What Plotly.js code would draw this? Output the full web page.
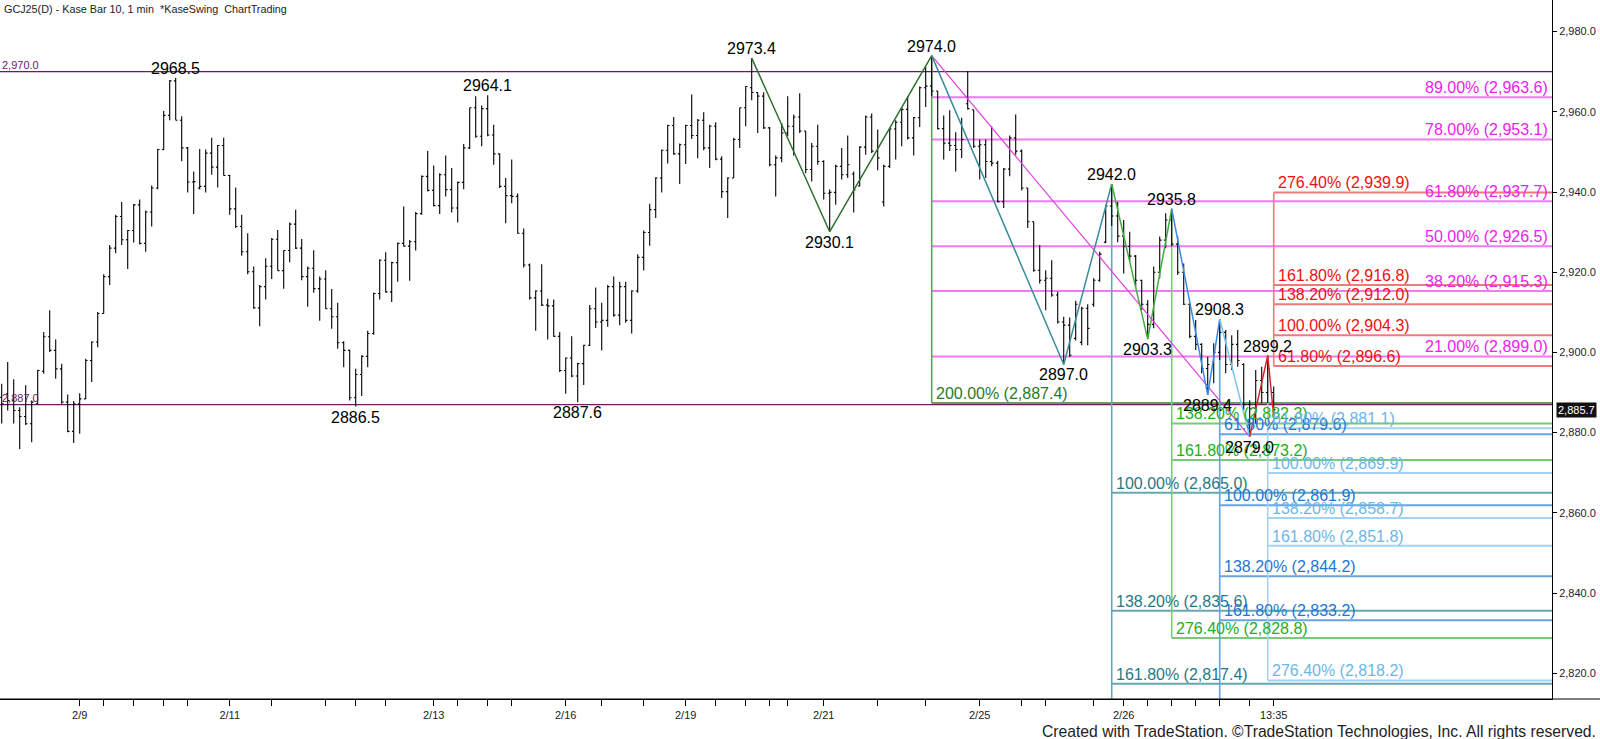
<!DOCTYPE html>
<html>
<head>
<meta charset="utf-8">
<script src="https://cdn.plot.ly/plotly-3.0.1.min.js"></script>
<style>
html,body{margin:0;padding:0;background:#fff;}
#chart{width:1600px;height:739px;}
</style>
</head>
<body>
<div id="chart"></div>
<script>
// ---------------- DATA ----------------
const openP = [2888.8,2889.7,2888.0,2885.5,2884.0,2882.2,2887.2,2895.3,2903.9,2900.5,
2895.9,2887.6,2880.3,2887.2,2888.4,2898.0,2902.6,2909.7,2918.9,2926.0,
2933.9,2928.1,2930.4,2936.8,2927.2,2935.0,2941.0,2950.6,2959.1,2967.7,
2957.9,2951.0,2942.5,2941.0,2941.4,2949.7,2946.2,2951.6,2944.1,2935.8,
2931.4,2925.1,2920.1,2911.1,2916.4,2921.5,2928.2,2920.4,2925.4,2932.0,
2926.0,2918.9,2921.0,2915.9,2918.3,2910.9,2908.9,2902.4,2900.5,2888.7,
2894.5,2899.0,2904.7,2914.7,2923.0,2915.1,2922.4,2927.2,2926.5,2927.6,
2934.6,2943.9,2940.4,2936.6,2944.3,2940.6,2936.0,2942.4,2951.0,2961.0,
2953.9,2960.8,2954.2,2949.5,2941.4,2939.1,2938.9,2929.7,2921.8,2913.6,
2915.3,2911.8,2911.6,2904.0,2895.5,2898.6,2894.1,2897.2,2901.8,2910.9,
2907.6,2908.0,2916.4,2909.3,2916.4,2908.0,2915.3,2923.7,2929.9,2935.6,
2943.5,2950.4,2956.6,2949.5,2951.8,2956.6,2954.1,2957.9,2951.0,2956.4,
2948.2,2940.1,2943.5,2953.1,2961.0,2966.0,2964.8,2963.9,2956.0,2946.8,
2948.5,2954.7,2956.4,2958.7,2955.2,2945.6,2951.4,2947.6,2939.7,2939.9,
2946.4,2944.3,2944.5,2941.5,2951.2,2958.7,2950.2,2937.5,2946.4,2955.7,
2957.4,2960.6,2953.5,2958.5,2966.0,2966.4,2965.2,2955.8,2952.2,2951.6,
2950.6,2962.0,2960.5,2951.4,2951.8,2947.6,2947.2,2937.6,2945.7,2953.5,
2950.2,2941.0,2932.6,2920.5,2918.0,2918.5,2914.3,2907.6,2906.8,2903.5,
2902.5,2911.0,2912.0,2918.0,2927.5,2936.5,2934.0,2929.0,2926.4,2924.0,
2918.0,2912.0,2907.0,2920.0,2928.0,2933.0,2927.0,2920.0,2912.0,2904.0,
2902.0,2896.0,2897.0,2900.0,2905.0,2897.0,2902.0,2897.0,2887.0,2886.0,
2893.0,2890.0,2890.0];
const highP = [2892.2,2897.6,2893.3,2886.3,2891.8,2888.0,2895.7,2905.1,2910.5,2903.2,
2897.2,2889.5,2887.9,2889.8,2898.4,2902.8,2910.1,2919.5,2926.8,2934.3,
2937.5,2930.5,2937.0,2938.1,2935.4,2941.6,2950.7,2960.2,2967.9,2968.5,
2958.9,2951.2,2945.1,2950.7,2950.6,2953.5,2951.7,2953.5,2944.3,2941.1,
2934.3,2929.7,2921.4,2916.8,2923.5,2928.5,2930.5,2925.5,2932.4,2935.6,
2928.3,2921.4,2925.5,2918.9,2920.5,2915.8,2912.4,2902.8,2900.7,2895.9,
2899.3,2905.4,2914.9,2923.2,2925.0,2922.6,2927.4,2936.4,2928.0,2935.0,
2944.1,2950.2,2946.6,2944.7,2949.1,2946.0,2942.6,2952.0,2961.0,2963.9,
2961.6,2964.1,2956.8,2949.6,2943.5,2948.1,2939.6,2930.9,2922.2,2915.5,
2922.0,2913.4,2913.2,2905.1,2898.7,2904.0,2897.4,2901.9,2911.8,2916.2,
2912.4,2916.8,2918.9,2917.6,2917.6,2915.5,2924.5,2930.4,2937.1,2943.7,
2950.6,2956.8,2958.7,2952.1,2956.8,2964.3,2958.2,2959.9,2956.8,2957.4,
2948.9,2943.7,2953.5,2961.0,2966.4,2973.4,2964.9,2964.9,2956.2,2949.1,
2957.2,2963.9,2959.3,2964.6,2955.2,2952.2,2956.8,2947.9,2940.6,2946.8,
2951.0,2954.1,2945.1,2951.4,2959.1,2959.6,2955.6,2946.8,2956.0,2957.9,
2961.2,2963.9,2958.7,2966.3,2971.3,2974.0,2965.2,2959.1,2960.4,2954.9,
2958.5,2970.2,2960.6,2953.1,2953.1,2956.4,2947.8,2946.0,2954.1,2959.3,
2950.6,2941.0,2932.6,2926.8,2920.5,2923.0,2915.1,2908.9,2908.7,2912.9,
2911.4,2912.0,2918.5,2925.1,2936.8,2942.0,2937.5,2933.0,2930.1,2924.3,
2918.1,2913.1,2921.4,2928.9,2934.7,2935.8,2928.9,2922.2,2912.2,2908.1,
2902.3,2898.9,2902.3,2908.3,2905.6,2904.3,2905.6,2897.3,2888.1,2895.6,
2896.4,2899.2,2891.5];
const lowP = [2882.3,2885.5,2882.3,2875.9,2881.9,2877.6,2887.2,2894.7,2900.1,2893.4,
2887.2,2880.1,2877.4,2879.7,2888.4,2892.6,2901.3,2909.7,2916.8,2924.7,
2926.8,2920.8,2927.4,2926.9,2925.1,2931.4,2940.7,2950.4,2957.9,2957.9,
2947.7,2939.9,2934.5,2940.6,2939.9,2944.3,2941.1,2944.1,2934.3,2931.0,
2924.1,2919.5,2910.9,2906.5,2913.2,2918.3,2920.4,2915.9,2922.5,2925.8,
2918.0,2911.4,2914.9,2907.9,2910.8,2905.9,2900.9,2896.3,2888.0,2886.5,
2889.1,2896.3,2904.4,2913.2,2914.9,2912.6,2917.6,2926.4,2917.9,2925.4,
2934.3,2940.1,2936.4,2934.5,2938.9,2934.9,2932.4,2940.7,2950.7,2953.5,
2951.4,2953.9,2946.8,2941.0,2932.2,2937.2,2929.6,2921.2,2913.2,2905.4,
2911.6,2903.2,2903.9,2895.1,2889.7,2893.8,2887.6,2891.9,2901.6,2906.1,
2900.5,2906.4,2908.9,2906.8,2907.4,2904.7,2914.9,2920.4,2926.6,2933.5,
2939.9,2947.1,2949.3,2942.0,2947.0,2953.2,2948.4,2950.4,2946.0,2947.9,
2938.5,2933.5,2943.5,2951.0,2956.4,2962.9,2954.7,2955.7,2946.4,2938.9,
2947.4,2953.9,2949.1,2954.7,2944.7,2942.6,2946.8,2938.1,2930.1,2936.8,
2943.1,2943.5,2934.9,2941.4,2949.3,2949.7,2945.4,2936.4,2946.0,2948.1,
2951.4,2953.1,2949.1,2956.2,2961.2,2963.9,2955.6,2948.1,2950.2,2945.1,
2948.5,2960.6,2951.0,2943.1,2943.5,2946.4,2937.4,2936.0,2943.9,2949.3,
2940.4,2931.0,2920.1,2917.2,2910.5,2913.9,2907.2,2897.0,2898.9,2903.0,
2901.8,2901.8,2911.4,2917.6,2927.2,2931.5,2927.5,2919.7,2922.6,2916.4,
2910.6,2903.3,2906.0,2918.5,2926.0,2926.4,2919.3,2911.8,2903.5,2900.6,
2894.8,2889.4,2892.3,2898.1,2894.8,2895.6,2896.4,2885.6,2879.0,2882.3,
2887.3,2887.3,2884.0];
const closeP = [2887.2,2888.0,2885.5,2884.0,2882.2,2887.6,2895.5,2903.9,2900.5,2895.9,
2887.6,2880.3,2887.2,2888.4,2898.0,2902.6,2909.7,2918.9,2926.0,2933.9,
2928.1,2930.4,2936.8,2927.2,2935.0,2941.0,2950.6,2959.1,2967.7,2957.9,
2951.0,2942.5,2942.6,2941.4,2949.7,2946.2,2951.6,2944.1,2935.8,2931.4,
2925.1,2920.1,2911.1,2916.4,2921.5,2928.2,2920.4,2925.4,2932.0,2926.0,
2918.9,2921.0,2915.9,2918.3,2910.9,2908.9,2902.4,2900.5,2888.7,2894.5,
2899.0,2904.7,2914.7,2923.0,2915.1,2922.4,2927.2,2926.5,2927.6,2934.6,
2943.9,2940.4,2936.6,2944.3,2940.6,2936.0,2942.4,2951.0,2961.0,2953.9,
2960.8,2954.2,2949.5,2941.4,2939.1,2938.9,2929.7,2921.8,2913.6,2915.3,
2911.8,2911.6,2904.0,2895.5,2898.6,2894.1,2897.2,2901.8,2910.9,2907.6,
2908.0,2916.4,2909.3,2916.4,2908.0,2915.3,2923.7,2929.9,2935.6,2943.5,
2950.4,2956.6,2949.5,2951.8,2956.6,2954.1,2957.9,2951.0,2956.4,2948.2,
2940.1,2943.5,2953.1,2961.0,2966.3,2964.8,2963.9,2956.0,2946.8,2948.5,
2954.7,2956.4,2958.7,2955.2,2945.6,2951.4,2947.6,2939.7,2939.9,2946.4,
2944.3,2946.8,2940.5,2951.2,2958.7,2950.2,2948.5,2946.4,2955.7,2957.4,
2960.6,2953.5,2958.5,2966.0,2966.4,2965.2,2955.8,2952.2,2951.6,2950.6,
2953.1,2960.8,2951.4,2951.8,2947.6,2947.2,2937.6,2945.7,2953.5,2950.2,
2941.0,2932.6,2920.5,2918.0,2918.5,2914.3,2907.6,2906.8,2899.3,2912.0,
2911.0,2906.0,2918.0,2924.5,2936.5,2934.0,2929.0,2926.4,2924.0,2918.0,
2912.0,2907.0,2920.0,2928.0,2933.0,2927.0,2920.0,2912.0,2904.0,2902.0,
2896.0,2897.0,2900.0,2905.0,2897.0,2902.0,2898.0,2887.0,2886.0,2893.0,
2890.0,2896.0,2885.7];

// swing points
const swingBars   = [30, 60, 82, 97, 126, 139, 156, 178, 186, 192, 196, 202, 204, 209, 212];
const swingPrices = [2968.5, 2886.5, 2964.1, 2887.6, 2973.4, 2930.1, 2974.0, 2897.0, 2942.0, 2903.3, 2935.8, 2889.4, 2908.3, 2879.0, 2899.2];
const swingKinds  = ['H','L','H','L','H','L','H','L','H','L','H','L','H','L','H'];

// zigzag legs
const legDarkGreenBars = [126, 139, 156], legDarkGreenPrices = [2973.4, 2930.1, 2974.0];
const legTealBars = [156, 178, 186],       legTealPrices = [2974.0, 2897.0, 2942.0];
const legGreenBars = [186, 192, 196],      legGreenPrices = [2942.0, 2903.3, 2935.8];
const legBlueBars = [196, 202, 204],       legBluePrices = [2935.8, 2889.4, 2908.3];
const legLightBlueBars = [204, 209],       legLightBluePrices = [2908.3, 2879.0];
const legRedBars = [209, 212, 213],        legRedPrices = [2879.0, 2899.2, 2884.0];
const trendBars = [156, 209],              trendPrices = [2974.0, 2879.0];

// horizontal reference lines
const refLevels = [2970.0, 2887.0];
const refLabels = ['2,970.0', '2,887.0'];

// fib groups
const fibMagentaLevels = [2963.6, 2953.1, 2937.7, 2926.5, 2915.3, 2899.0];
const fibMagentaPct    = ['89.00%', '78.00%', '61.80%', '50.00%', '38.20%', '21.00%'];
const fibMagentaStart  = 156;

const fibDkGreenLevels = [2887.4];
const fibDkGreenPct    = ['200.00%'];
const fibDkGreenStart  = 156, fibDkGreenTop = 2974.0;

const fibRedLevels = [2939.9, 2916.8, 2912.0, 2904.3, 2896.6];
const fibRedPct    = ['276.40%', '161.80%', '138.20%', '100.00%', '61.80%'];
const fibRedStart  = 213;

const fibGreenLevels = [2882.3, 2873.2, 2828.8];
const fibGreenPct    = ['138.20%', '161.80%', '276.40%'];
const fibGreenStart  = 196, fibGreenTop = 2935.8;

const fibTealLevels = [2865.0, 2835.6, 2817.4];
const fibTealPct    = ['100.00%', '138.20%', '161.80%'];
const fibTealStart  = 186, fibTealTop = 2942.0;

const fibBlueLevels = [2879.6, 2861.9, 2844.2, 2833.2];
const fibBluePct    = ['61.80%', '100.00%', '138.20%', '161.80%'];
const fibBlueStart  = 204, fibBlueTop = 2908.3;

const fibLtBlueLevels = [2881.1, 2869.9, 2858.7, 2851.8, 2818.2];
const fibLtBluePct    = ['61.80%', '100.00%', '138.20%', '161.80%', '276.40%'];
const fibLtBlueStart  = 212, fibLtBlueTop = 2899.2;

// axes
const yTickVals = [2820, 2840, 2860, 2880, 2900, 2920, 2940, 2960, 2980];
const xTickPos  = [14,18,23,28,32,39,46,55,60,65,73,77,82,86,95,101,108,115,120,125,129,132,138,147,155,164,171,175,183,188,192,196,200,204,209,213];
const xTickText = ['2/9','','','','','2/11','','','','','2/13','','','','2/16','','','2/19','','','','','2/21','','','2/25','','','','2/26','','','','','','13:35'];
const lastPrice = 2885.7;

// ---------------- BUILD ----------------
const FONT = 'Liberation Sans, Arial, sans-serif';
const fmt = v => v.toFixed(1).replace(/^(\d)(\d{3})/, '$1,$2');
const barIdx = openP.map((_, i) => i + 1);
const X0 = 0.717, X1 = 259.38;
const Y0 = 2813.57, Y1 = 2987.88;

const traces = [];
traces.push({
  type: 'ohlc', x: barIdx, open: openP, high: highP, low: lowP, close: closeP,
  increasing: {line: {color: '#000', width: 1.1}},
  decreasing: {line: {color: '#000', width: 1.1}},
  tickwidth: 0.3, hoverinfo: 'skip', showlegend: false
});
function leg(xs, ys, color, w) {
  traces.push({type: 'scatter', mode: 'lines', x: xs, y: ys,
    line: {color: color, width: w}, hoverinfo: 'skip', showlegend: false});
}
leg(trendBars, trendPrices, '#e040e0', 1.2);
leg(legDarkGreenBars, legDarkGreenPrices, '#2f6f2f', 1.5);
leg(legTealBars, legTealPrices, '#3a8c9c', 1.5);
leg(legGreenBars, legGreenPrices, '#3fae3f', 1.5);
leg(legBlueBars, legBluePrices, '#3a8ae0', 1.5);
leg(legLightBlueBars, legLightBluePrices, '#7cc2ee', 1.5);
leg(legRedBars, legRedPrices, '#d02828', 1.5);

const shapes = [];
const annotations = [];

// reference purple lines
refLevels.forEach((lv, i) => {
  shapes.push({type: 'line', xref: 'paper', x0: 0, x1: 1, yref: 'y', y0: lv, y1: lv,
    line: {color: '#6a1a6a', width: 1.2}, layer: 'below'});
  annotations.push({xref: 'paper', x: 0, xanchor: 'left', xshift: 1, yref: 'y', y: lv, yanchor: 'bottom',
    text: refLabels[i], showarrow: false, borderpad: 0, font: {family: FONT, size: 11, color: '#6a1a6a'}});
});

function fibGroup(start, levels, pcts, lineColor, textColor, vTop, vBottom, rightAlign) {
  levels.forEach((lv, i) => {
    shapes.push({type: 'line', xref: 'x', x0: start, x1: X1, yref: 'y', y0: lv, y1: lv,
      line: {color: lineColor, width: 2}, layer: 'below'});
    const txt = pcts[i] + ' (' + fmt(lv) + ')';
    if (rightAlign) {
      annotations.push({xref: 'paper', x: 1, xanchor: 'right', xshift: -3, yref: 'y', y: lv, yanchor: 'bottom',
        text: txt, showarrow: false, borderpad: 0, font: {family: FONT, size: 16, color: textColor}});
    } else {
      annotations.push({xref: 'x', x: start, xanchor: 'left', xshift: 3, yref: 'y', y: lv, yanchor: 'bottom',
        text: txt, showarrow: false, borderpad: 0, font: {family: FONT, size: 16, color: textColor}});
    }
  });
  if (vTop !== null) {
    shapes.push({type: 'line', xref: 'x', x0: start, x1: start, yref: 'y', y0: vTop, y1: vBottom,
      line: {color: lineColor, width: 1.6}, layer: 'below'});
  }
}
fibGroup(fibMagentaStart, fibMagentaLevels, fibMagentaPct, '#f07af0', '#f020f0', null, null, true);
fibGroup(fibDkGreenStart, fibDkGreenLevels, fibDkGreenPct, '#62a062', '#2a7a2a', fibDkGreenTop, fibDkGreenLevels[0], false);
fibGroup(fibRedStart, fibRedLevels, fibRedPct, '#f07a7a', '#ee1010', fibRedLevels[0], fibRedLevels[fibRedLevels.length - 1], false);
fibGroup(fibTealStart, fibTealLevels, fibTealPct, '#66a8b2', '#1f7a86', fibTealTop, Y0, false);
fibGroup(fibGreenStart, fibGreenLevels, fibGreenPct, '#78ca78', '#22ae22', fibGreenTop, fibGreenLevels[fibGreenLevels.length - 1], false);
fibGroup(fibBlueStart, fibBlueLevels, fibBluePct, '#68a4e4', '#1e76d6', fibBlueTop, Y0, false);
fibGroup(fibLtBlueStart, fibLtBlueLevels, fibLtBluePct, '#a4d2f2', '#6cb6e6', fibLtBlueTop, fibLtBlueLevels[fibLtBlueLevels.length - 1], false);

// swing labels
swingBars.forEach((b, i) => {
  const hi = swingKinds[i] === 'H';
  annotations.push({xref: 'x', x: b, xanchor: 'center', yref: 'y', y: swingPrices[i],
    yanchor: hi ? 'bottom' : 'top', yshift: hi ? 0 : -1,
    text: swingPrices[i].toFixed(1), showarrow: false, borderpad: 0,
    font: {family: FONT, size: 16, color: '#000'}});
});

// last price marker
annotations.push({xref: 'paper', x: 1, xanchor: 'left', xshift: 4, yref: 'y', y: lastPrice, yanchor: 'middle',
  text: fmt(lastPrice), showarrow: false, bgcolor: '#111', borderpad: 1,
  font: {family: FONT, size: 11, color: '#fff'}});

// title & footer
annotations.push({xref: 'paper', x: 0, xanchor: 'left', xshift: 2, yref: 'paper', y: 1, yanchor: 'top', yshift: -1,
  text: 'GCJ25(D) - Kase Bar 10, 1 min\u00a0\u00a0*KaseSwing\u00a0\u00a0ChartTrading', showarrow: false,
  font: {family: FONT, size: 10.8, color: '#222'}});
annotations.push({xref: 'paper', x: 1598 / 1552, xanchor: 'right', yref: 'paper', y: -0.0472, yanchor: 'middle',
  text: 'Created with TradeStation. \u00a9TradeStation Technologies, Inc. All rights reserved.', showarrow: false,
  font: {family: FONT, size: 15.7, color: '#222'}});

// bottom axis line extension
shapes.push({type: 'line', xref: 'paper', x0: 0, x1: 1600 / 1552, yref: 'paper', y0: 0, y1: 0,
  line: {color: '#000', width: 1}});

const layout = {
  width: 1600, height: 739,
  margin: {l: 0, r: 48, t: 0, b: 40, pad: 0},
  paper_bgcolor: '#fff', plot_bgcolor: '#fff',
  showlegend: false,
  xaxis: {range: [X0, X1], showgrid: false, zeroline: false, showline: true, linecolor: '#000', linewidth: 1,
    ticks: 'outside', ticklen: 6, tickcolor: '#000', tickvals: xTickPos, ticktext: xTickText,
    tickfont: {family: FONT, size: 11, color: '#222'}, rangeslider: {visible: false}, fixedrange: true},
  yaxis: {range: [Y0, Y1], side: 'right', showgrid: false, zeroline: false, showline: true, linecolor: '#000', linewidth: 1,
    ticks: 'outside', ticklen: 4, tickcolor: '#000', tickvals: yTickVals, ticktext: yTickVals.map(fmt),
    tickfont: {family: FONT, size: 11, color: '#222'}, fixedrange: true},
  shapes: shapes,
  annotations: annotations
};
Plotly.newPlot('chart', traces, layout, {staticPlot: true, displayModeBar: false});
</script>
</body>
</html>
